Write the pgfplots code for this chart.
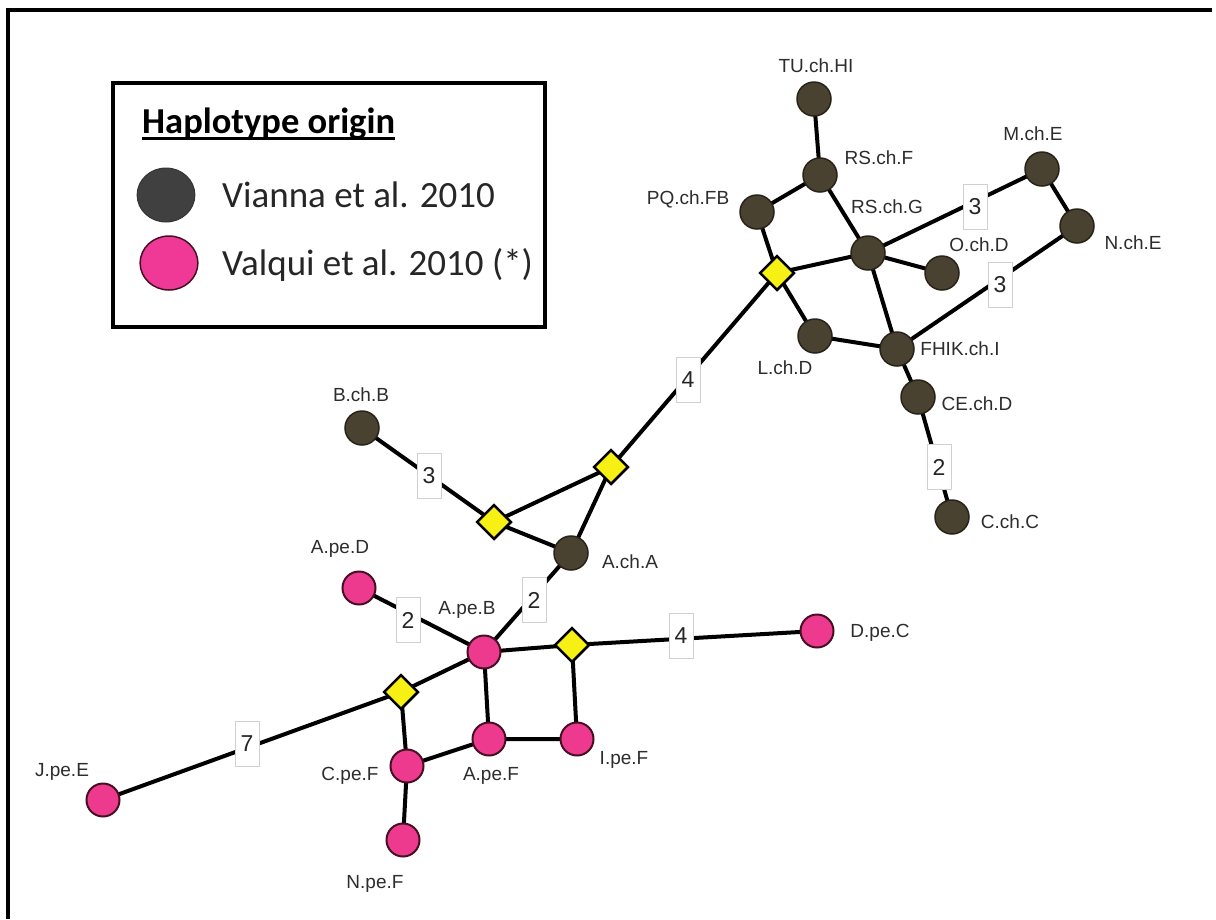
\documentclass[border=0pt]{standalone}
\usepackage{pgfplots}
\pgfplotsset{compat=1.18}
\usepackage{pgfplotstable}
\usetikzlibrary{backgrounds}
\usepackage{fontspec}
\setmainfont{Liberation Sans}
\newfontfamily\calibri{Carlito}
\definecolor{darknode}{RGB}{74,66,48}
\definecolor{darkedge}{RGB}{40,34,24}
\definecolor{pinknode}{RGB}{238,58,142}
\definecolor{pinkedge}{RGB}{70,16,36}
\definecolor{yellownode}{RGB}{246,240,20}
\definecolor{legdark}{RGB}{64,64,64}
\definecolor{legpink}{RGB}{240,56,150}
\definecolor{labelgray}{RGB}{45,45,45}
\newcommand\ulbox[1]{\setbox0\hbox{#1}\rlap{\rule[-7pt]{\wd0}{2.6pt}}\box0}

\pgfplotstableread{
x y
814 99
820 175
nan nan
820 175
757 212
nan nan
820 175
868 253
nan nan
757 212
777 273
nan nan
777 273
868 253
nan nan
777 273
815 336
nan nan
777 273
611 467
nan nan
868 253
942 273
nan nan
868 253
897 349
nan nan
868 253
1042 169
nan nan
1042 169
1077 226
nan nan
1077 226
897 349
nan nan
815 336
897 349
nan nan
897 349
918 397
nan nan
918 397
952 517
nan nan
611 467
494 522
nan nan
611 467
571 553
nan nan
494 522
571 553
nan nan
494 522
362 428
nan nan
571 553
484 652
nan nan
359 588
484 652
nan nan
484 652
572 645
nan nan
572 645
817 631
nan nan
572 645
577 739
nan nan
484 652
489 739
nan nan
489 739
577 739
nan nan
484 652
401 692
nan nan
401 692
407 766
nan nan
401 692
103 800
nan nan
407 766
489 739
nan nan
407 766
403 840
}\edges

\pgfplotstableread{
x y
814 99
820 175
757 212
868 253
942 273
1042 169
1077 226
815 336
897 349
918 397
952 517
362 428
571 553
}\darknodes

\pgfplotstableread{
x y
359 588
484 652
817 631
489 739
577 739
407 766
403 840
103 800
}\pinknodes

\pgfplotstableread{
x y
777 273
611 467
494 522
572 645
401 692
}\diamonds

\pgfplotstableread{
x y label
688 380 4
975 207 3
1000 285 3
939 467 2
429 476 3
534 600 2
408 620 2
681 636 4
247 744 7
}\steps

\pgfplotstableread{
x y label
816 66 TU.ch.HI
879 158 RS.ch.F
688 199 PQ.ch.FB
887 207 RS.ch.G
979 245 O.ch.D
1033 134 M.ch.E
1133 243 N.ch.E
785 368 L.ch.D
960 349 FHIK.ch.I
977 404 CE.ch.D
1010 522 C.ch.C
361 395 B.ch.B
630 562 A.ch.A
340 549 A.pe.D
467 610 A.pe.B
880 633 D.pe.C
491 776 A.pe.F
624 760 I.pe.F
350 776 C.pe.F
375 884 N.pe.F
62 772 J.pe.E
}\labels

\begin{document}
\begin{tikzpicture}
\begin{axis}[
  name=net,
  scale only axis, width=1216pt, height=919pt,
  xmin=0, xmax=1216, ymin=0, ymax=919, y dir=reverse,
  hide axis, clip=true, unbounded coords=jump,
]
\draw[line width=3.5pt] (axis cs:8,919) -- (axis cs:8,10) -- (axis cs:1212,10);
% edges
\addplot[black, line width=4pt, mark=none] table {\edges};
% step labels
\addplot[only marks, mark=none, nodes near coords, point meta=explicit symbolic,
  every node near coord/.style={anchor=center, draw=black!18, line width=1pt, fill=white,
    minimum width=24pt, minimum height=45pt, inner sep=0pt, text=black!85,
    font=\fontsize{23}{26}\selectfont}] table[meta=label] {\steps};
% nodes
\addplot[only marks, mark=*, mark size=17pt, mark options={fill=darknode, draw=darkedge, line width=1.5pt}] table {\darknodes};
\addplot[only marks, mark=*, mark size=16.5pt, mark options={fill=pinknode, draw=pinkedge, line width=2pt}] table {\pinknodes};
\addplot[only marks, mark=square*, mark size=12pt, mark options={rotate=45, fill=yellownode, draw=black, line width=2.5pt}] table {\diamonds};
% node labels
\addplot[only marks, mark=none, nodes near coords, point meta=explicit symbolic,
  every node near coord/.style={anchor=center, inner sep=0pt, text=labelgray,
    font=\fontsize{19}{22}\selectfont}] table[meta=label] {\labels};
% legend
\draw[line width=3.5pt] (axis cs:113,83) rectangle (axis cs:545,327);
\addplot[only marks, mark=*, mark size=27pt, mark options={xscale=1.07, fill=legdark, draw=legdark!80!black, line width=1pt}] coordinates {(166,195)};
\addplot[only marks, mark=*, mark size=27pt, mark options={xscale=1.07, fill=legpink, draw=pinkedge, line width=1.5pt}] coordinates {(169,263)};
\node[anchor=base west, inner sep=0pt] at (axis cs:142,133) {\calibri\bfseries\fontsize{36.5}{40}\selectfont\ulbox{Haplotype origin}};
\node[anchor=base west, inner sep=0pt, text=black!85] at (axis cs:222,207) {\calibri\fontsize{37}{40}\selectfont Vianna et al. 2010};
\node[anchor=base west, inner sep=0pt, text=black!85] at (axis cs:222,275) {\calibri\fontsize{37}{40}\selectfont Valqui et al. 2010 (*)};
\end{axis}
\begin{scope}[on background layer]
\fill[white] ([shift={(-6pt,-6pt)}]net.south west) rectangle ([shift={(6pt,6pt)}]net.north east);
\end{scope}
\pgfresetboundingbox
\useasboundingbox (net.south west) rectangle (net.north east);
\end{tikzpicture}
\end{document}
